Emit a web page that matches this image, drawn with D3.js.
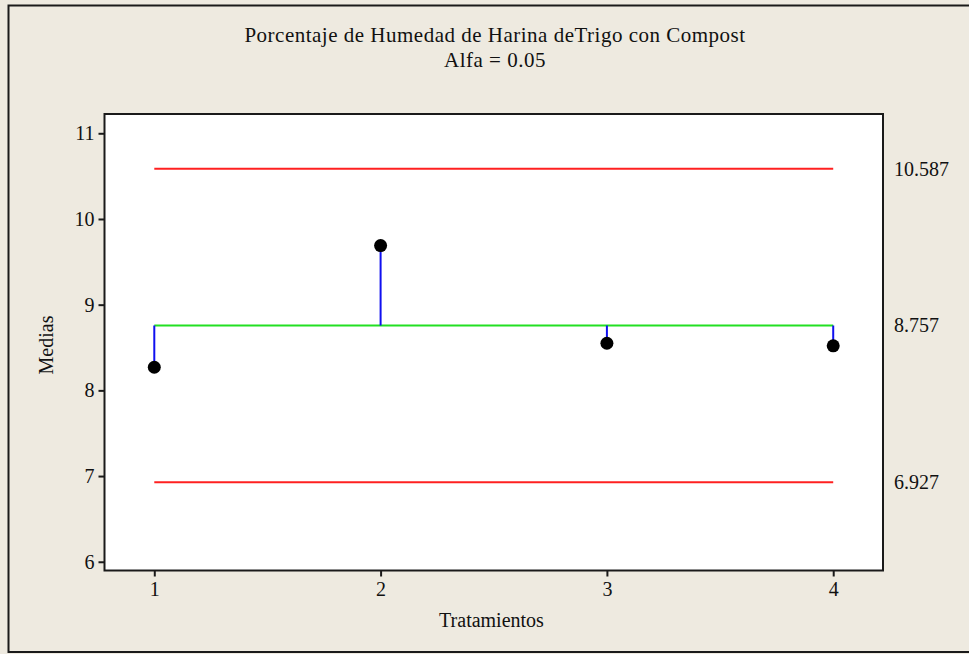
<!DOCTYPE html>
<html>
<head>
<meta charset="utf-8">
<script src="https://cdn.jsdelivr.net/npm/d3@7"></script>
<style>
  html, body { margin: 0; padding: 0; background: #EEEAE0; }
  svg { display: block; }
  text { font-family: "Liberation Serif", "Times New Roman", serif; fill: #111; }
</style>
</head>
<body>
<svg id="chart" width="969" height="654"></svg>
<script>
const categories = [1, 2, 3, 4];
const means = [8.27, 9.69, 8.55, 8.52];
const centerLine = 8.757;
const upperLimit = 10.587;
const lowerLimit = 6.927;
const yTicks = [6, 7, 8, 9, 10, 11];
const limitLabels = ["10.587", "8.757", "6.927"];
const titleLines = ["Porcentaje de Humedad de Harina deTrigo con Compost", "Alfa = 0.05"];

const svg = d3.select("#chart");
const W = 969, H = 654;

// outer frame
svg.append("rect").attr("x", 0).attr("y", 0).attr("width", W).attr("height", H).attr("fill", "#EEEAE0");
svg.append("rect").attr("x", 8.5).attr("y", 5.5).attr("width", W + 20).attr("height", 646.5)
  .attr("fill", "none").attr("stroke", "#1a1a1a").attr("stroke-width", 2);

const plot = { left: 104.5, top: 114, right: 883, bottom: 570.5 };

const x = d3.scaleLinear().domain([0.78, 4.22]).range([plot.left, plot.right]);
const y = d3.scaleLinear().domain([5.898, 11.225]).range([plot.bottom, plot.top]);

svg.append("rect").attr("x", plot.left).attr("y", plot.top)
  .attr("width", plot.right - plot.left).attr("height", plot.bottom - plot.top)
  .attr("fill", "#fff").attr("stroke", "#1a1a1a").attr("stroke-width", 2);

// axes
const yAxis = svg.append("g").attr("transform", `translate(${plot.left},0)`)
  .call(d3.axisLeft(y).tickValues(yTicks).tickFormat(d3.format("d")).tickSize(6).tickPadding(4));
const xAxis = svg.append("g").attr("transform", `translate(0,${plot.bottom})`)
  .call(d3.axisBottom(x).tickValues(categories).tickFormat(d3.format("d")).tickSize(6).tickPadding(5));
[yAxis, xAxis].forEach(g => {
  g.select(".domain").remove();
  g.selectAll("line").attr("stroke", "#1a1a1a").attr("stroke-width", 2);
  g.selectAll("text").attr("font-size", 20).attr("font-family", "Liberation Serif, serif").attr("fill", "#111");
});

// limit lines
const x0 = x(categories[0]), x1 = x(categories[categories.length - 1]);
[upperLimit, lowerLimit].forEach(v => {
  svg.append("line").attr("x1", x0).attr("x2", x1).attr("y1", y(v)).attr("y2", y(v))
    .attr("stroke", "#FF2020").attr("stroke-width", 2);
});
svg.append("line").attr("x1", x0).attr("x2", x1).attr("y1", y(centerLine)).attr("y2", y(centerLine))
  .attr("stroke", "#22E022").attr("stroke-width", 2);

// stems
svg.selectAll(".stem").data(means).enter().append("line")
  .attr("x1", (d, i) => x(categories[i])).attr("x2", (d, i) => x(categories[i]))
  .attr("y1", y(centerLine)).attr("y2", d => y(d))
  .attr("stroke", "#1010F0").attr("stroke-width", 2);

// points
svg.selectAll(".pt").data(means).enter().append("circle")
  .attr("cx", (d, i) => x(categories[i])).attr("cy", d => y(d)).attr("r", 6.5)
  .attr("fill", "#000");

// right labels
[upperLimit, centerLine, lowerLimit].forEach((v, i) => {
  svg.append("text").attr("x", 894).attr("y", y(v)).attr("dy", "0.35em")
    .attr("font-size", 20).text(limitLabels[i]);
});

// titles
svg.append("text").attr("x", 495).attr("y", 42).attr("text-anchor", "middle").attr("font-size", 21)
  .attr("letter-spacing", 0.5).text(titleLines[0]);
svg.append("text").attr("x", 495).attr("y", 67).attr("text-anchor", "middle").attr("font-size", 21)
  .attr("letter-spacing", 0.5).text(titleLines[1]);

// axis labels
svg.append("text").attr("x", 491.5).attr("y", 627).attr("text-anchor", "middle").attr("font-size", 20).text("Tratamientos");
svg.append("text").attr("transform", "translate(53,345) rotate(-90)").attr("text-anchor", "middle").attr("font-size", 20).text("Medias");
</script>
</body>
</html>
